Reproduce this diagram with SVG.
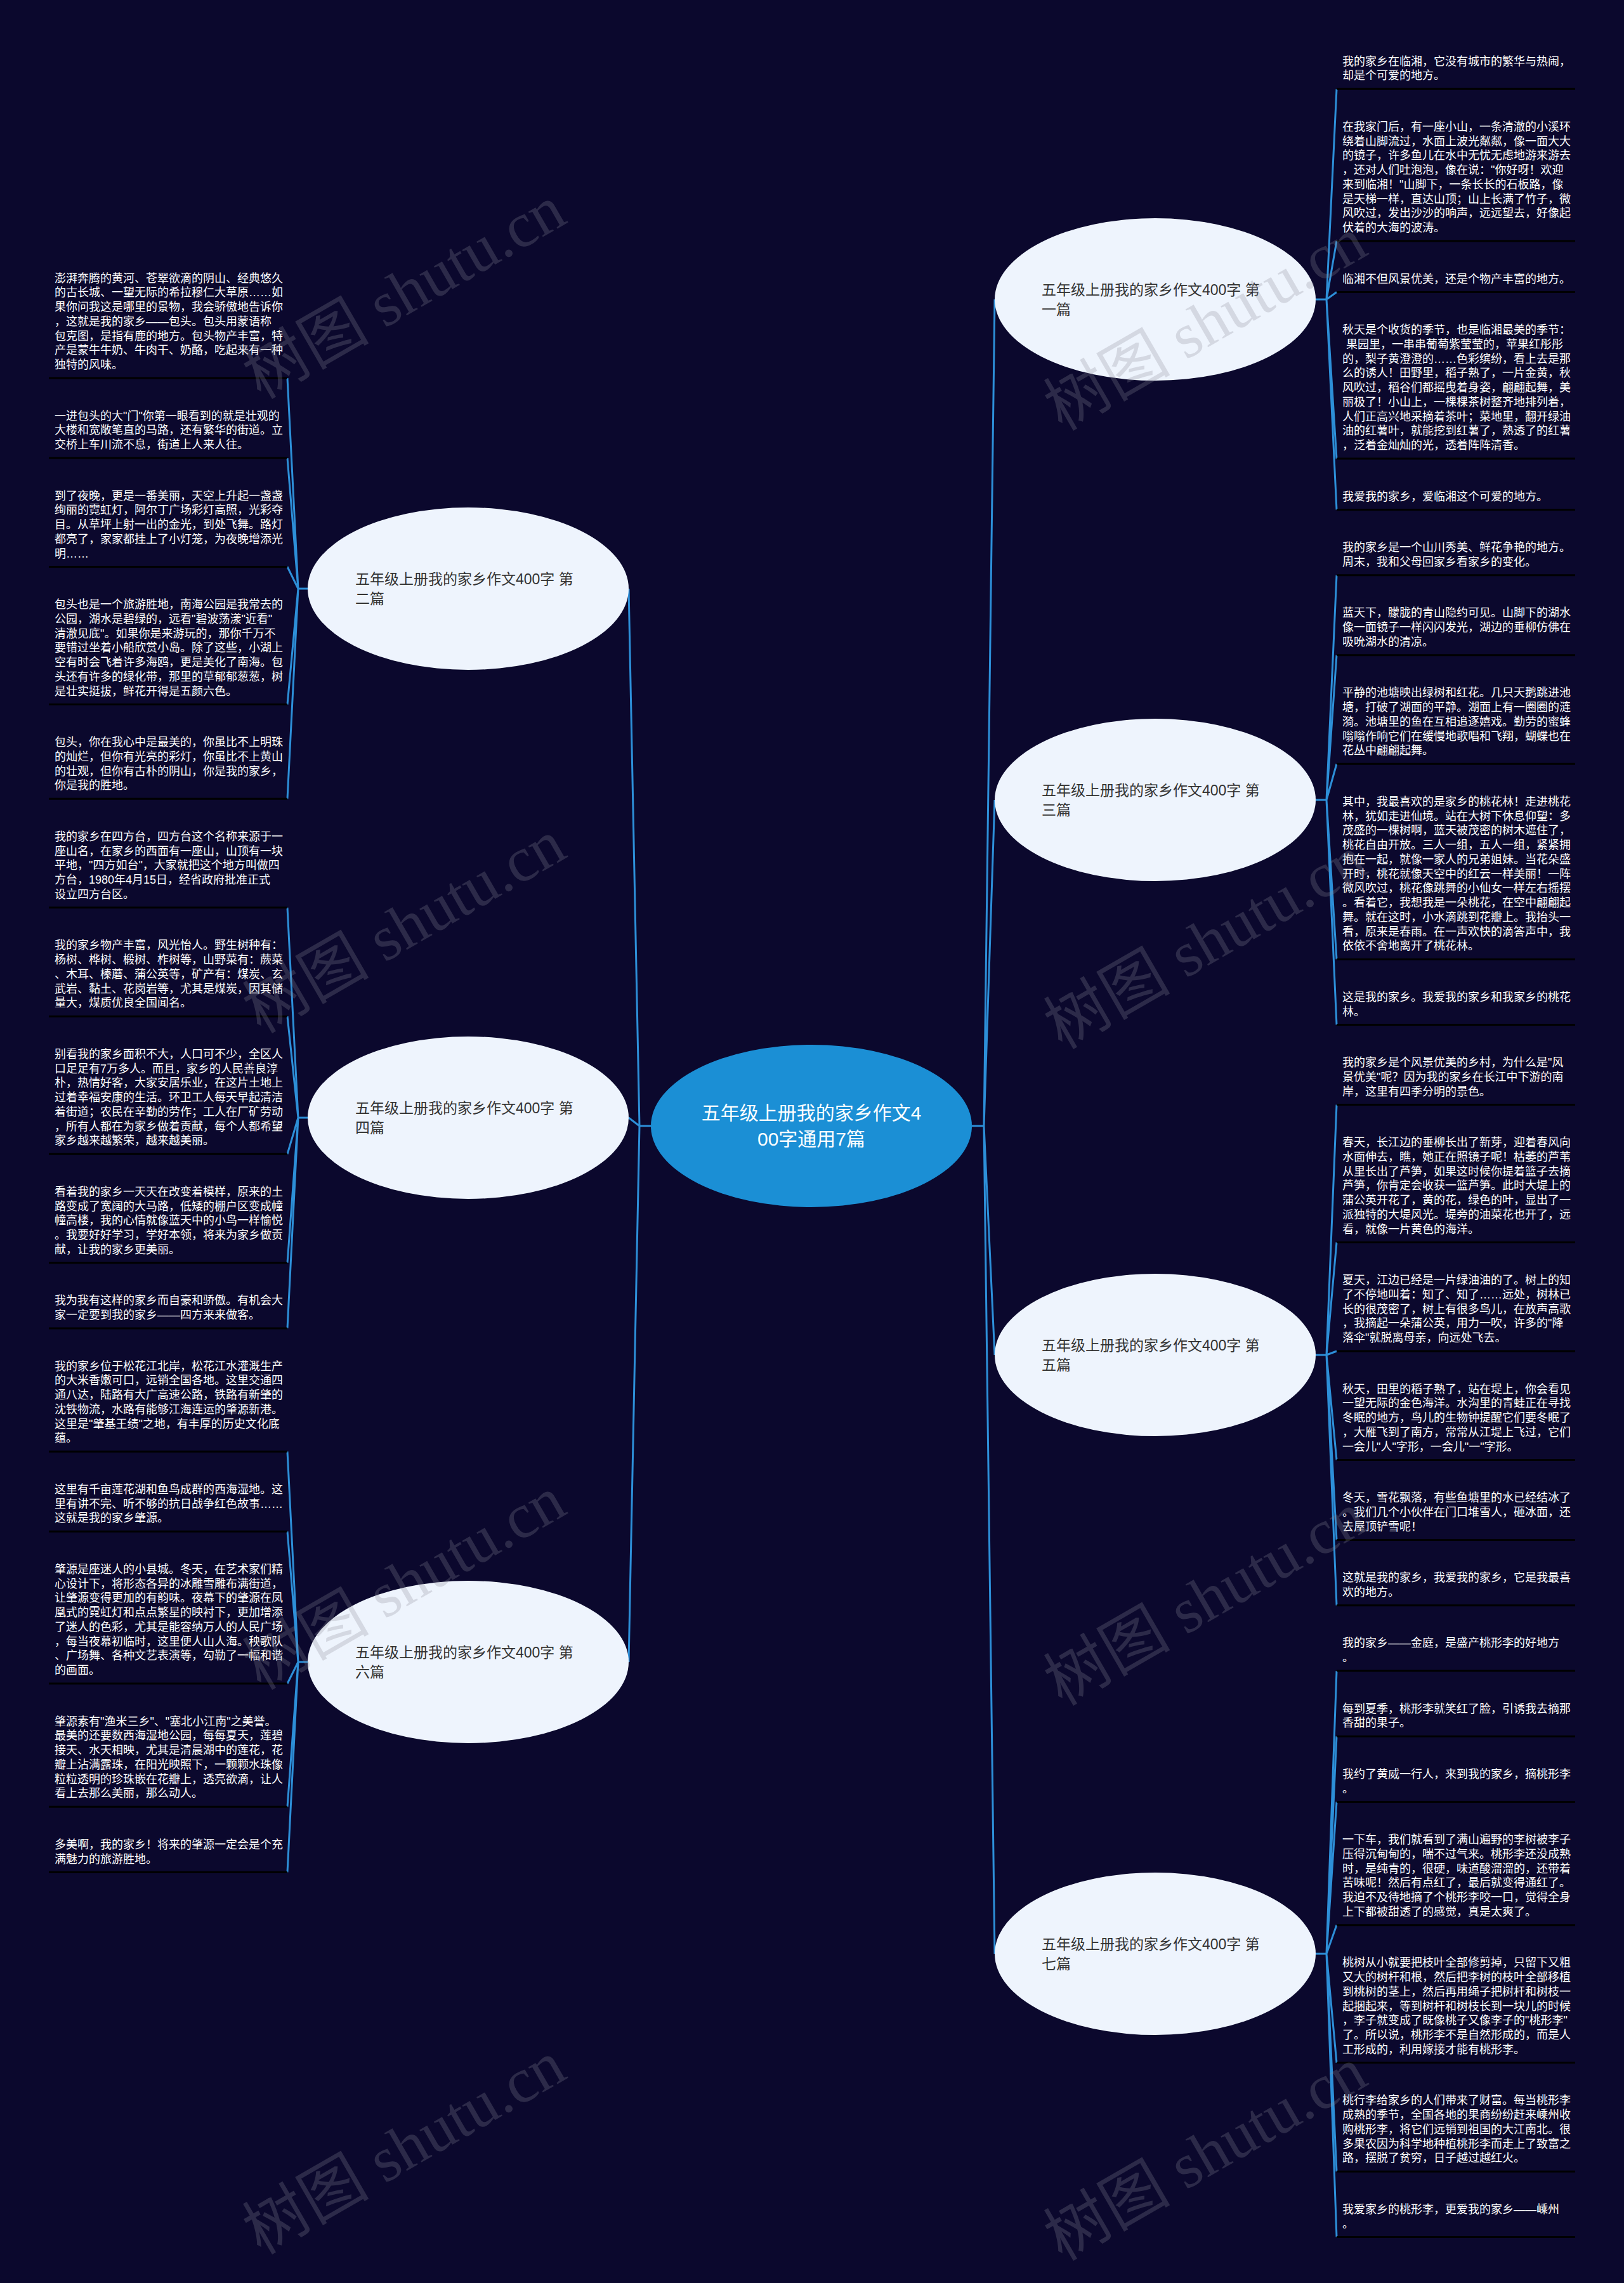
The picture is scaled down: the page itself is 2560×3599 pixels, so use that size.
<svg xmlns="http://www.w3.org/2000/svg" width="2560" height="3599" viewBox="0 0 2560 3599">
<style>
.leaf{font-family:"Liberation Sans","Noto Sans CJK SC",sans-serif;font-size:18px;fill:#ffffff}
.ul{stroke:#000000;stroke-width:3}
.node ellipse{fill:#eef4fd}
.ntext{font-family:"Liberation Sans","Noto Sans CJK SC",sans-serif;font-size:23px;fill:#333333}
.rtext{font-family:"Liberation Sans","Noto Sans CJK SC",sans-serif;font-size:30px;fill:#ffffff;text-anchor:middle}
.con path{fill:none;stroke:#2d8fd8;stroke-width:3}
.wm{font-family:"Liberation Serif","Noto Sans CJK SC",serif;font-size:100px;fill:#8c8c99;opacity:0.26;text-anchor:middle}
</style>
<rect width="2560" height="3599" fill="#0b082d"/>

<g id="connectors" class="con">
<path d="M1026,1775 H1008 M1008,1775 L991,928 M1008,1775 L991,1762 M1008,1775 L991,2620"/>
<path d="M1532,1775 H1551 M1551,1775 L1568,472 M1551,1775 L1568,1261 M1551,1775 L1568,2136 M1551,1775 L1568,3080"/>
<path d="M485,928 H470 M470,928 L453,596 M470,928 L453,722 M470,928 L453,893.5 M470,928 L453,1110.5 M470,928 L453,1259.25"/>
<path d="M485,1762 H470 M470,1762 L453,1430.75 M470,1762 L453,1602.25 M470,1762 L453,1819.25 M470,1762 L453,1990.75 M470,1762 L453,2094"/>
<path d="M485,2620 H470 M470,2620 L453,2288.25 M470,2620 L453,2414.25 M470,2620 L453,2654 M470,2620 L453,2848.25 M470,2620 L453,2951.5"/>
<path d="M2074,472 H2091 M2091,472 L2107,140.25 M2091,472 L2107,380 M2091,472 L2107,460.5 M2091,472 L2107,723 M2091,472 L2107,803.5"/>
<path d="M2074,1261 H2091 M2091,1261 L2107,906.75 M2091,1261 L2107,1032.75 M2091,1261 L2107,1204.25 M2091,1261 L2107,1512.25 M2091,1261 L2107,1615.5"/>
<path d="M2074,2136 H2091 M2091,2136 L2107,1741.5 M2091,2136 L2107,1958.5 M2091,2136 L2107,2130 M2091,2136 L2107,2301.5 M2091,2136 L2107,2427.5 M2091,2136 L2107,2530.75"/>
<path d="M2074,3080 H2091 M2091,3080 L2107,2634 M2091,3080 L2107,2737.25 M2091,3080 L2107,2840.5 M2091,3080 L2107,3034.75 M2091,3080 L2107,3251.75 M2091,3080 L2107,3423.25 M2091,3080 L2107,3526.5"/>
</g>

<g id="root">
<ellipse cx="1279" cy="1775" rx="253" ry="128" fill="#1b8fd5"/>
<text class="rtext" x="1279" y="1765">五年级上册我的家乡作文4</text>
<text class="rtext" x="1279" y="1806">00字通用7篇</text>
</g>

<g id="node1" class="node"><ellipse cx="1821" cy="472" rx="253" ry="128"/><text class="ntext" x="1642" y="465">五年级上册我的家乡作文400字 第</text><text class="ntext" x="1642" y="496">一篇</text></g>
<g id="node2" class="node"><ellipse cx="738" cy="928" rx="253" ry="128"/><text class="ntext" x="560" y="921">五年级上册我的家乡作文400字 第</text><text class="ntext" x="560" y="952">二篇</text></g>
<g id="node3" class="node"><ellipse cx="1821" cy="1261" rx="253" ry="128"/><text class="ntext" x="1642" y="1254">五年级上册我的家乡作文400字 第</text><text class="ntext" x="1642" y="1285">三篇</text></g>
<g id="node4" class="node"><ellipse cx="738" cy="1762" rx="253" ry="128"/><text class="ntext" x="560" y="1755">五年级上册我的家乡作文400字 第</text><text class="ntext" x="560" y="1786">四篇</text></g>
<g id="node5" class="node"><ellipse cx="1821" cy="2136" rx="253" ry="128"/><text class="ntext" x="1642" y="2129">五年级上册我的家乡作文400字 第</text><text class="ntext" x="1642" y="2160">五篇</text></g>
<g id="node6" class="node"><ellipse cx="738" cy="2620" rx="253" ry="128"/><text class="ntext" x="560" y="2613">五年级上册我的家乡作文400字 第</text><text class="ntext" x="560" y="2644">六篇</text></g>
<g id="node7" class="node"><ellipse cx="1821" cy="3080" rx="253" ry="128"/><text class="ntext" x="1642" y="3073">五年级上册我的家乡作文400字 第</text><text class="ntext" x="1642" y="3104">七篇</text></g>

<!-- left leaves -->
<g id="leaf2-1"><text class="leaf" x="86" y="444.5"><tspan x="86">澎湃奔腾的黄河、苍翠欲滴的阴山、经典悠久</tspan><tspan x="86" dy="22.75">的古长城、一望无际的希拉穆仁大草原……如</tspan><tspan x="86" dy="22.75">果你问我这是哪里的景物，我会骄傲地告诉你</tspan><tspan x="86" dy="22.75">，这就是我的家乡——包头。包头用蒙语称</tspan><tspan x="86" dy="22.75">包克图，是指有鹿的地方。包头物产丰富，特</tspan><tspan x="86" dy="22.75">产是蒙牛牛奶、牛肉干、奶酪，吃起来有一种</tspan><tspan x="86" dy="22.75">独特的风味。</tspan></text><line class="ul" x1="77" y1="596" x2="453" y2="596"/></g>
<g id="leaf2-2"><text class="leaf" x="86" y="661.5"><tspan x="86">一进包头的大"门"你第一眼看到的就是壮观的</tspan><tspan x="86" dy="22.75">大楼和宽敞笔直的马路，还有繁华的街道。立</tspan><tspan x="86" dy="22.75">交桥上车川流不息，街道上人来人往。</tspan></text><line class="ul" x1="77" y1="722" x2="453" y2="722"/></g>
<g id="leaf2-3"><text class="leaf" x="86" y="787.5"><tspan x="86">到了夜晚，更是一番美丽，天空上升起一盏盏</tspan><tspan x="86" dy="22.75">绚丽的霓虹灯，阿尔丁广场彩灯高照，光彩夺</tspan><tspan x="86" dy="22.75">目。从草坪上射一出的金光，到处飞舞。路灯</tspan><tspan x="86" dy="22.75">都亮了，家家都挂上了小灯笼，为夜晚增添光</tspan><tspan x="86" dy="22.75">明……</tspan></text><line class="ul" x1="77" y1="893.5" x2="453" y2="893.5"/></g>
<g id="leaf2-4"><text class="leaf" x="86" y="959"><tspan x="86">包头也是一个旅游胜地，南海公园是我常去的</tspan><tspan x="86" dy="22.75">公园，湖水是碧绿的，远看"碧波荡漾"近看"</tspan><tspan x="86" dy="22.75">清澈见底"。如果你是来游玩的，那你千万不</tspan><tspan x="86" dy="22.75">要错过坐着小船欣赏小岛。除了这些，小湖上</tspan><tspan x="86" dy="22.75">空有时会飞着许多海鸥，更是美化了南海。包</tspan><tspan x="86" dy="22.75">头还有许多的绿化带，那里的草郁郁葱葱，树</tspan><tspan x="86" dy="22.75">是壮实挺拔，鲜花开得是五颜六色。</tspan></text><line class="ul" x1="77" y1="1110.5" x2="453" y2="1110.5"/></g>
<g id="leaf2-5"><text class="leaf" x="86" y="1176"><tspan x="86">包头，你在我心中是最美的，你虽比不上明珠</tspan><tspan x="86" dy="22.75">的灿烂，但你有光亮的彩灯，你虽比不上黄山</tspan><tspan x="86" dy="22.75">的壮观，但你有古朴的阴山，你是我的家乡，</tspan><tspan x="86" dy="22.75">你是我的胜地。</tspan></text><line class="ul" x1="77" y1="1259.25" x2="453" y2="1259.25"/></g>

<g id="leaf4-1"><text class="leaf" x="86" y="1324.75"><tspan x="86">我的家乡在四方台，四方台这个名称来源于一</tspan><tspan x="86" dy="22.75">座山名，在家乡的西面有一座山，山顶有一块</tspan><tspan x="86" dy="22.75">平地，"四方如台"，大家就把这个地方叫做四</tspan><tspan x="86" dy="22.75">方台，1980年4月15日，经省政府批准正式</tspan><tspan x="86" dy="22.75">设立四方台区。</tspan></text><line class="ul" x1="77" y1="1430.75" x2="453" y2="1430.75"/></g>
<g id="leaf4-2"><text class="leaf" x="86" y="1496.25"><tspan x="86">我的家乡物产丰富，风光怡人。野生树种有：</tspan><tspan x="86" dy="22.75">杨树、桦树、椴树、柞树等，山野菜有：蕨菜</tspan><tspan x="86" dy="22.75">、木耳、榛蘑、蒲公英等，矿产有：煤炭、玄</tspan><tspan x="86" dy="22.75">武岩、黏土、花岗岩等，尤其是煤炭，因其储</tspan><tspan x="86" dy="22.75">量大，煤质优良全国闻名。</tspan></text><line class="ul" x1="77" y1="1602.25" x2="453" y2="1602.25"/></g>
<g id="leaf4-3"><text class="leaf" x="86" y="1667.75"><tspan x="86">别看我的家乡面积不大，人口可不少，全区人</tspan><tspan x="86" dy="22.75">口足足有7万多人。而且，家乡的人民善良淳</tspan><tspan x="86" dy="22.75">朴，热情好客，大家安居乐业，在这片土地上</tspan><tspan x="86" dy="22.75">过着幸福安康的生活。环卫工人每天早起清洁</tspan><tspan x="86" dy="22.75">着街道；农民在辛勤的劳作；工人在厂矿劳动</tspan><tspan x="86" dy="22.75">，所有人都在为家乡做着贡献，每个人都希望</tspan><tspan x="86" dy="22.75">家乡越来越繁荣，越来越美丽。</tspan></text><line class="ul" x1="77" y1="1819.25" x2="453" y2="1819.25"/></g>
<g id="leaf4-4"><text class="leaf" x="86" y="1884.75"><tspan x="86">看着我的家乡一天天在改变着模样，原来的土</tspan><tspan x="86" dy="22.75">路变成了宽阔的大马路，低矮的棚户区变成幢</tspan><tspan x="86" dy="22.75">幢高楼，我的心情就像蓝天中的小鸟一样愉悦</tspan><tspan x="86" dy="22.75">。我要好好学习，学好本领，将来为家乡做贡</tspan><tspan x="86" dy="22.75">献，让我的家乡更美丽。</tspan></text><line class="ul" x1="77" y1="1990.75" x2="453" y2="1990.75"/></g>
<g id="leaf4-5"><text class="leaf" x="86" y="2056.25"><tspan x="86">我为我有这样的家乡而自豪和骄傲。有机会大</tspan><tspan x="86" dy="22.75">家一定要到我的家乡——四方来来做客。</tspan></text><line class="ul" x1="77" y1="2094" x2="453" y2="2094"/></g>

<g id="leaf6-1"><text class="leaf" x="86" y="2159.5"><tspan x="86">我的家乡位于松花江北岸，松花江水灌溉生产</tspan><tspan x="86" dy="22.75">的大米香嫩可口，远销全国各地。这里交通四</tspan><tspan x="86" dy="22.75">通八达，陆路有大广高速公路，铁路有新肇的</tspan><tspan x="86" dy="22.75">沈铁物流，水路有能够江海连运的肇源新港。</tspan><tspan x="86" dy="22.75">这里是"肇基王绩"之地，有丰厚的历史文化底</tspan><tspan x="86" dy="22.75">蕴。</tspan></text><line class="ul" x1="77" y1="2288.25" x2="453" y2="2288.25"/></g>
<g id="leaf6-2"><text class="leaf" x="86" y="2353.75"><tspan x="86">这里有千亩莲花湖和鱼鸟成群的西海湿地。这</tspan><tspan x="86" dy="22.75">里有讲不完、听不够的抗日战争红色故事……</tspan><tspan x="86" dy="22.75">这就是我的家乡肇源。</tspan></text><line class="ul" x1="77" y1="2414.25" x2="453" y2="2414.25"/></g>
<g id="leaf6-3"><text class="leaf" x="86" y="2479.75"><tspan x="86">肇源是座迷人的小县城。冬天，在艺术家们精</tspan><tspan x="86" dy="22.75">心设计下，将形态各异的冰雕雪雕布满街道，</tspan><tspan x="86" dy="22.75">让肇源变得更加的有韵味。夜幕下的肇源在凤</tspan><tspan x="86" dy="22.75">凰式的霓虹灯和点点繁星的映衬下，更加增添</tspan><tspan x="86" dy="22.75">了迷人的色彩，尤其是能容纳万人的人民广场</tspan><tspan x="86" dy="22.75">，每当夜幕初临时，这里便人山人海。秧歌队</tspan><tspan x="86" dy="22.75">、广场舞、各种文艺表演等，勾勒了一幅和谐</tspan><tspan x="86" dy="22.75">的画面。</tspan></text><line class="ul" x1="77" y1="2654" x2="453" y2="2654"/></g>
<g id="leaf6-4"><text class="leaf" x="86" y="2719.5"><tspan x="86">肇源素有"渔米三乡"、"塞北小江南"之美誉。</tspan><tspan x="86" dy="22.75">最美的还要数西海湿地公园，每每夏天，莲碧</tspan><tspan x="86" dy="22.75">接天、水天相映，尤其是清晨湖中的莲花，花</tspan><tspan x="86" dy="22.75">瓣上沾满露珠，在阳光映照下，一颗颗水珠像</tspan><tspan x="86" dy="22.75">粒粒透明的珍珠嵌在花瓣上，透亮欲滴，让人</tspan><tspan x="86" dy="22.75">看上去那么美丽，那么动人。</tspan></text><line class="ul" x1="77" y1="2848.25" x2="453" y2="2848.25"/></g>
<g id="leaf6-5"><text class="leaf" x="86" y="2913.75"><tspan x="86">多美啊，我的家乡！将来的肇源一定会是个充</tspan><tspan x="86" dy="22.75">满魅力的旅游胜地。</tspan></text><line class="ul" x1="77" y1="2951.5" x2="453" y2="2951.5"/></g>

<!-- right leaves -->
<g id="leaf1-1"><text class="leaf" x="2116" y="102.5"><tspan x="2116">我的家乡在临湘，它没有城市的繁华与热闹，</tspan><tspan x="2116" dy="22.75">却是个可爱的地方。</tspan></text><line class="ul" x1="2107" y1="140.25" x2="2483" y2="140.25"/></g>
<g id="leaf1-2"><text class="leaf" x="2116" y="205.75"><tspan x="2116">在我家门后，有一座小山，一条清澈的小溪环</tspan><tspan x="2116" dy="22.75">绕着山脚流过，水面上波光粼粼，像一面大大</tspan><tspan x="2116" dy="22.75">的镜子，许多鱼儿在水中无忧无虑地游来游去</tspan><tspan x="2116" dy="22.75">，还对人们吐泡泡，像在说："你好呀！欢迎</tspan><tspan x="2116" dy="22.75">来到临湘！"山脚下，一条长长的石板路，像</tspan><tspan x="2116" dy="22.75">是天梯一样，直达山顶；山上长满了竹子，微</tspan><tspan x="2116" dy="22.75">风吹过，发出沙沙的响声，远远望去，好像起</tspan><tspan x="2116" dy="22.75">伏着的大海的波涛。</tspan></text><line class="ul" x1="2107" y1="380" x2="2483" y2="380"/></g>
<g id="leaf1-3"><text class="leaf" x="2116" y="445.5">临湘不但风景优美，还是个物产丰富的地方。</text><line class="ul" x1="2107" y1="460.5" x2="2483" y2="460.5"/></g>
<g id="leaf1-4"><text class="leaf" x="2116" y="526"><tspan x="2116">秋天是个收货的季节，也是临湘最美的季节：</tspan><tspan x="2122" dy="22.75">果园里，一串串葡萄紫莹莹的，苹果红彤彤</tspan><tspan x="2116" dy="22.75">的，梨子黄澄澄的……色彩缤纷，看上去是那</tspan><tspan x="2116" dy="22.75">么的诱人！田野里，稻子熟了，一片金黄，秋</tspan><tspan x="2116" dy="22.75">风吹过，稻谷们都摇曳着身姿，翩翩起舞，美</tspan><tspan x="2116" dy="22.75">丽极了！小山上，一棵棵茶树整齐地排列着，</tspan><tspan x="2116" dy="22.75">人们正高兴地采摘着茶叶；菜地里，翻开绿油</tspan><tspan x="2116" dy="22.75">油的红薯叶，就能挖到红薯了，熟透了的红薯</tspan><tspan x="2116" dy="22.75">，泛着金灿灿的光，透着阵阵清香。</tspan></text><line class="ul" x1="2107" y1="723" x2="2483" y2="723"/></g>
<g id="leaf1-5"><text class="leaf" x="2116" y="788.5">我爱我的家乡，爱临湘这个可爱的地方。</text><line class="ul" x1="2107" y1="803.5" x2="2483" y2="803.5"/></g>

<g id="leaf3-1"><text class="leaf" x="2116" y="869"><tspan x="2116">我的家乡是一个山川秀美、鲜花争艳的地方。</tspan><tspan x="2116" dy="22.75">周末，我和父母回家乡看家乡的变化。</tspan></text><line class="ul" x1="2107" y1="906.75" x2="2483" y2="906.75"/></g>
<g id="leaf3-2"><text class="leaf" x="2116" y="972.25"><tspan x="2116">蓝天下，朦胧的青山隐约可见。山脚下的湖水</tspan><tspan x="2116" dy="22.75">像一面镜子一样闪闪发光，湖边的垂柳仿佛在</tspan><tspan x="2116" dy="22.75">吸吮湖水的清凉。</tspan></text><line class="ul" x1="2107" y1="1032.75" x2="2483" y2="1032.75"/></g>
<g id="leaf3-3"><text class="leaf" x="2116" y="1098.25"><tspan x="2116">平静的池塘映出绿树和红花。几只天鹅跳进池</tspan><tspan x="2116" dy="22.75">塘，打破了湖面的平静。湖面上有一圈圈的涟</tspan><tspan x="2116" dy="22.75">漪。池塘里的鱼在互相追逐嬉戏。勤劳的蜜蜂</tspan><tspan x="2116" dy="22.75">嗡嗡作响它们在缓慢地歌唱和飞翔，蝴蝶也在</tspan><tspan x="2116" dy="22.75">花丛中翩翩起舞。</tspan></text><line class="ul" x1="2107" y1="1204.25" x2="2483" y2="1204.25"/></g>
<g id="leaf3-4"><text class="leaf" x="2116" y="1269.75"><tspan x="2116">其中，我最喜欢的是家乡的桃花林！走进桃花</tspan><tspan x="2116" dy="22.75">林，犹如走进仙境。站在大树下休息仰望：多</tspan><tspan x="2116" dy="22.75">茂盛的一棵树啊，蓝天被茂密的树木遮住了，</tspan><tspan x="2116" dy="22.75">桃花自由开放。三人一组，五人一组，紧紧拥</tspan><tspan x="2116" dy="22.75">抱在一起，就像一家人的兄弟姐妹。当花朵盛</tspan><tspan x="2116" dy="22.75">开时，桃花就像天空中的红云一样美丽！一阵</tspan><tspan x="2116" dy="22.75">微风吹过，桃花像跳舞的小仙女一样左右摇摆</tspan><tspan x="2116" dy="22.75">。看着它，我想我是一朵桃花，在空中翩翩起</tspan><tspan x="2116" dy="22.75">舞。就在这时，小水滴跳到花瓣上。我抬头一</tspan><tspan x="2116" dy="22.75">看，原来是春雨。在一声欢快的滴答声中，我</tspan><tspan x="2116" dy="22.75">依依不舍地离开了桃花林。</tspan></text><line class="ul" x1="2107" y1="1512.25" x2="2483" y2="1512.25"/></g>
<g id="leaf3-5"><text class="leaf" x="2116" y="1577.75"><tspan x="2116">这是我的家乡。我爱我的家乡和我家乡的桃花</tspan><tspan x="2116" dy="22.75">林。</tspan></text><line class="ul" x1="2107" y1="1615.5" x2="2483" y2="1615.5"/></g>

<g id="leaf5-1"><text class="leaf" x="2116" y="1681"><tspan x="2116">我的家乡是个风景优美的乡村，为什么是"风</tspan><tspan x="2116" dy="22.75">景优美"呢？因为我的家乡在长江中下游的南</tspan><tspan x="2116" dy="22.75">岸，这里有四季分明的景色。</tspan></text><line class="ul" x1="2107" y1="1741.5" x2="2483" y2="1741.5"/></g>
<g id="leaf5-2"><text class="leaf" x="2116" y="1807"><tspan x="2116">春天，长江边的垂柳长出了新芽，迎着春风向</tspan><tspan x="2116" dy="22.75">水面伸去，瞧，她正在照镜子呢！枯萎的芦苇</tspan><tspan x="2116" dy="22.75">从里长出了芦笋，如果这时候你提着篮子去摘</tspan><tspan x="2116" dy="22.75">芦笋，你肯定会收获一篮芦笋。此时大堤上的</tspan><tspan x="2116" dy="22.75">蒲公英开花了，黄的花，绿色的叶，显出了一</tspan><tspan x="2116" dy="22.75">派独特的大堤风光。堤旁的油菜花也开了，远</tspan><tspan x="2116" dy="22.75">看，就像一片黄色的海洋。</tspan></text><line class="ul" x1="2107" y1="1958.5" x2="2483" y2="1958.5"/></g>
<g id="leaf5-3"><text class="leaf" x="2116" y="2024"><tspan x="2116">夏天，江边已经是一片绿油油的了。树上的知</tspan><tspan x="2116" dy="22.75">了不停地叫着：知了、知了……远处，树林已</tspan><tspan x="2116" dy="22.75">长的很茂密了，树上有很多鸟儿，在放声高歌</tspan><tspan x="2116" dy="22.75">，我摘起一朵蒲公英，用力一吹，许多的"降</tspan><tspan x="2116" dy="22.75">落伞"就脱离母亲，向远处飞去。</tspan></text><line class="ul" x1="2107" y1="2130" x2="2483" y2="2130"/></g>
<g id="leaf5-4"><text class="leaf" x="2116" y="2195.5"><tspan x="2116">秋天，田里的稻子熟了，站在堤上，你会看见</tspan><tspan x="2116" dy="22.75">一望无际的金色海洋。水沟里的青蛙正在寻找</tspan><tspan x="2116" dy="22.75">冬眠的地方，鸟儿的生物钟提醒它们要冬眠了</tspan><tspan x="2116" dy="22.75">，大雁飞到了南方，常常从江堤上飞过，它们</tspan><tspan x="2116" dy="22.75">一会儿"人"字形，一会儿"一"字形。</tspan></text><line class="ul" x1="2107" y1="2301.5" x2="2483" y2="2301.5"/></g>
<g id="leaf5-5"><text class="leaf" x="2116" y="2367"><tspan x="2116">冬天，雪花飘落，有些鱼塘里的水已经结冰了</tspan><tspan x="2116" dy="22.75">。我们几个小伙伴在门口堆雪人，砸冰面，还</tspan><tspan x="2116" dy="22.75">去屋顶铲雪呢！</tspan></text><line class="ul" x1="2107" y1="2427.5" x2="2483" y2="2427.5"/></g>
<g id="leaf5-6"><text class="leaf" x="2116" y="2493"><tspan x="2116">这就是我的家乡，我爱我的家乡，它是我最喜</tspan><tspan x="2116" dy="22.75">欢的地方。</tspan></text><line class="ul" x1="2107" y1="2530.75" x2="2483" y2="2530.75"/></g>

<g id="leaf7-1"><text class="leaf" x="2116" y="2596.25"><tspan x="2116">我的家乡——金庭，是盛产桃形李的好地方</tspan><tspan x="2116" dy="22.75">。</tspan></text><line class="ul" x1="2107" y1="2634" x2="2483" y2="2634"/></g>
<g id="leaf7-2"><text class="leaf" x="2116" y="2699.5"><tspan x="2116">每到夏季，桃形李就笑红了脸，引诱我去摘那</tspan><tspan x="2116" dy="22.75">香甜的果子。</tspan></text><line class="ul" x1="2107" y1="2737.25" x2="2483" y2="2737.25"/></g>
<g id="leaf7-3"><text class="leaf" x="2116" y="2802.75"><tspan x="2116">我约了黄威一行人，来到我的家乡，摘桃形李</tspan><tspan x="2116" dy="22.75">。</tspan></text><line class="ul" x1="2107" y1="2840.5" x2="2483" y2="2840.5"/></g>
<g id="leaf7-4"><text class="leaf" x="2116" y="2906"><tspan x="2116">一下车，我们就看到了满山遍野的李树被李子</tspan><tspan x="2116" dy="22.75">压得沉甸甸的，喘不过气来。桃形李还没成熟</tspan><tspan x="2116" dy="22.75">时，是纯青的，很硬，味道酸溜溜的，还带着</tspan><tspan x="2116" dy="22.75">苦味呢！然后有点红了，最后就变得通红了。</tspan><tspan x="2116" dy="22.75">我迫不及待地摘了个桃形李咬一口，觉得全身</tspan><tspan x="2116" dy="22.75">上下都被甜透了的感觉，真是太爽了。</tspan></text><line class="ul" x1="2107" y1="3034.75" x2="2483" y2="3034.75"/></g>
<g id="leaf7-5"><text class="leaf" x="2116" y="3100.25"><tspan x="2116">桃树从小就要把枝叶全部修剪掉，只留下又粗</tspan><tspan x="2116" dy="22.75">又大的树杆和根，然后把李树的枝叶全部移植</tspan><tspan x="2116" dy="22.75">到桃树的茎上，然后再用绳子把树杆和树枝一</tspan><tspan x="2116" dy="22.75">起捆起来，等到树杆和树枝长到一块儿的时候</tspan><tspan x="2116" dy="22.75">，李子就变成了既像桃子又像李子的"桃形李"</tspan><tspan x="2116" dy="22.75">了。所以说，桃形李不是自然形成的，而是人</tspan><tspan x="2116" dy="22.75">工形成的，利用嫁接才能有桃形李。</tspan></text><line class="ul" x1="2107" y1="3251.75" x2="2483" y2="3251.75"/></g>
<g id="leaf7-6"><text class="leaf" x="2116" y="3317.25"><tspan x="2116">桃行李给家乡的人们带来了财富。每当桃形李</tspan><tspan x="2116" dy="22.75">成熟的季节，全国各地的果商纷纷赶来嵊州收</tspan><tspan x="2116" dy="22.75">购桃形李，将它们远销到祖国的大江南北。很</tspan><tspan x="2116" dy="22.75">多果农因为科学地种植桃形李而走上了致富之</tspan><tspan x="2116" dy="22.75">路，摆脱了贫穷，日子越过越红火。</tspan></text><line class="ul" x1="2107" y1="3423.25" x2="2483" y2="3423.25"/></g>
<g id="leaf7-7"><text class="leaf" x="2116" y="3488.75"><tspan x="2116">我爱家乡的桃形李，更爱我的家乡——嵊州</tspan><tspan x="2116" dy="22.75">。</tspan></text><line class="ul" x1="2107" y1="3526.5" x2="2483" y2="3526.5"/></g>

<g id="watermarks">
<text class="wm" transform="translate(654,490) rotate(-30)">树图 shutu.cn</text>
<text class="wm" transform="translate(1917,540) rotate(-30)">树图 shutu.cn</text>
<text class="wm" transform="translate(654,1490) rotate(-30)">树图 shutu.cn</text>
<text class="wm" transform="translate(1917,1515) rotate(-30)">树图 shutu.cn</text>
<text class="wm" transform="translate(654,2525) rotate(-30)">树图 shutu.cn</text>
<text class="wm" transform="translate(1917,2550) rotate(-30)">树图 shutu.cn</text>
<text class="wm" transform="translate(654,3415) rotate(-30)">树图 shutu.cn</text>
<text class="wm" transform="translate(1917,3425) rotate(-30)">树图 shutu.cn</text>
</g>
</svg>
